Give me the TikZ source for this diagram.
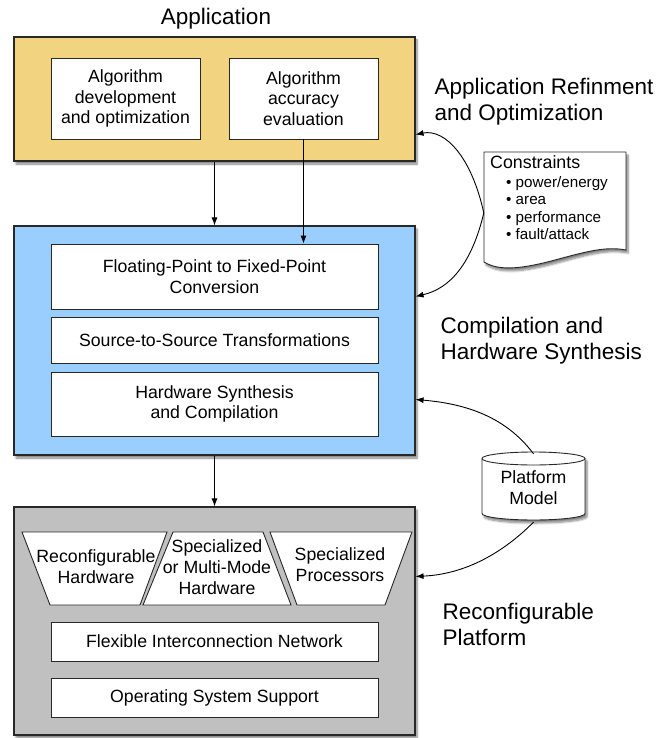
\documentclass[tikz,border=0pt]{standalone}
\usepackage{fontspec}
\setmainfont{Liberation Sans}
\usetikzlibrary{arrows.meta,shadows.blur,calc}
\definecolor{appyellow}{RGB}{242,212,128}
\definecolor{compblue}{RGB}{153,206,255}
\definecolor{platgray}{RGB}{192,192,192}
\definecolor{edge}{RGB}{40,40,40}
\tikzset{
  x=1pt, y=-1pt,
  bodyfont/.style={font=\fontsize{17.7}{20.7}\selectfont},
  bigfont/.style={font=\fontsize{22.5}{26}\selectfont},
  listfont/.style={font=\fontsize{15.2}{17.8}\selectfont, anchor=base west, inner sep=0pt},
  outer/.style={draw=edge, line width=1.1pt, blur shadow={shadow xshift=2pt, shadow yshift=-3pt, shadow blur steps=6, shadow opacity=50}},
  inner/.style={draw=edge, line width=0.9pt, fill=white, bodyfont, align=center, inner sep=0pt},
  trap/.style={draw=edge, line width=0.9pt, fill=white},
  arr/.style={draw=black, line width=0.9pt, -{Latex[length=8pt,width=6pt]}},
}
\begin{document}
\begin{tikzpicture}
\useasboundingbox (0,0) rectangle (662,738);

% title
\node[bigfont] (apptitle) at (216,19) {Application};

% application box
\node[outer, fill=appyellow, minimum width=401pt, minimum height=124pt] (app) at (214.5,99) {};
\node[inner, minimum width=149pt, minimum height=81pt] (dev) at (125.5,98.5) {Algorithm\\development\\and optimization};
\node[inner, minimum width=149pt, minimum height=81pt] (acc) at (303.5,98.5) {Algorithm\\accuracy\\evaluation};

% compilation box
\node[outer, fill=compblue, minimum width=401pt, minimum height=229pt] (comp) at (214.5,340.5) {};
\node[inner, minimum width=327pt, minimum height=65pt] (fp) at (214.5,276.5) {Floating-Point to Fixed-Point\\Conversion};
\node[inner, minimum width=327pt, minimum height=46pt] (s2s) at (214.5,340) {Source-to-Source Transformations};
\node[inner, minimum width=327pt, minimum height=64pt] (hws) at (214.5,404) {Hardware Synthesis\\and Compilation};

% platform box
\node[outer, fill=platgray, minimum width=401pt, minimum height=228pt] (plat) at (214.5,621) {};
\draw[trap] (22,532) -- (167,532) -- (140,605) -- (50,605) -- cycle;
\draw[trap] (173,532) -- (263,532) -- (291,605) -- (143,605) -- cycle;
\draw[trap] (270,532) -- (412,532) -- (385,605) -- (297,605) -- cycle;
\node[bodyfont, align=center] (rhw) at (96,567) {Reconfigurable\\Hardware};
\node[bodyfont, align=center] (smm) at (217,567) {Specialized\\or Multi-Mode\\Hardware};
\node[bodyfont, align=center] (spp) at (340,565) {Specialized\\Processors};
\node[inner, minimum width=327pt, minimum height=39pt] (fin) at (214.5,641.5) {Flexible Interconnection Network};
\node[inner, minimum width=327pt, minimum height=39pt] (os) at (214.5,697.5) {Operating System Support};

% side labels
\node[bigfont, align=left, anchor=west] (lab1) at (431,102) {Application Refinment\\and Optimization};
\node[bigfont, align=left, anchor=west] (lab2) at (437,341) {Compilation and\\Hardware Synthesis};
\node[bigfont, align=left, anchor=west] (lab3) at (439,624) {Reconfigurable\\Platform};

% constraints document
\draw[draw=edge, line width=0.9pt, fill=white, blur shadow={shadow xshift=2pt, shadow yshift=-3pt, shadow blur steps=6, shadow opacity=50}]
  (484,152) -- (626,152) -- (626,250)
  .. controls (605,246) and (585,252) .. (555,260)
  .. controls (525,268) and (500,272) .. (484,262) -- cycle;
\node[minimum width=142pt, minimum height=122pt, inner sep=0pt] (doc) at (555,213) {};
\node[anchor=base west, font=\fontsize{17.8}{20}\selectfont, inner sep=0pt] (ctitle) at (490,168) {Constraints};
\node[listfont] (c1) at (506,187) {\textbullet\ power/energy};
\node[listfont] (c2) at (506,204.5) {\textbullet\ area};
\node[listfont] (c3) at (506,222) {\textbullet\ performance};
\node[listfont] (c4) at (506,239.5) {\textbullet\ fault/attack};

% platform model cylinder
\draw[draw=edge, line width=0.9pt, fill=white, blur shadow={shadow xshift=2pt, shadow yshift=-3pt, shadow blur steps=6, shadow opacity=50}]
  (482,458.5) -- (482,513.5) arc[start angle=180, end angle=360, x radius=51.5pt, y radius=6.5pt]
  -- (585,458.5) arc[start angle=0, end angle=180, x radius=51.5pt, y radius=6.5pt] -- cycle;
\draw[draw=edge, line width=0.9pt] (482,458.5) arc[start angle=180, end angle=360, x radius=51.5pt, y radius=6.5pt];
\node[bodyfont, align=center, minimum width=103pt, minimum height=68pt, inner sep=0pt] (pm) at (533.5,488) {Platform\\Model};

% arrows
\draw[arr] (app.south) -- (comp.north);
\draw[arr] (acc.south) -- (acc.south |- fp.north);
\draw[arr] (comp.south) -- (plat.north);
\draw[arr] (doc.west) .. controls +(-12,-55) and +(30,-6) .. ($(app.south east)+(0,-27)$);
\draw[arr] (doc.west) .. controls +(-12,50) and +(35,-8) .. ($(comp.north east)+(0,71)$);
\draw[arr] (pm.north) .. controls +(-30,-40) and +(45,4) .. ($(comp.north east)+(0,174)$);
\draw[arr] (pm.south) .. controls +(-35,35) and +(45,-2) .. ($(plat.north east)+(0,70)$);
\end{tikzpicture}
\end{document}
